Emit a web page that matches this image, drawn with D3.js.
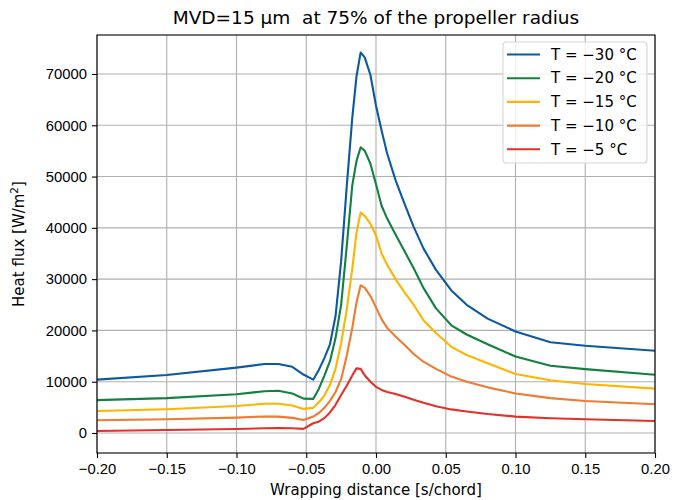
<!DOCTYPE html>
<html>
<head>
<meta charset="utf-8">
<script src="https://cdn.jsdelivr.net/npm/d3@7"></script>
<style>
	body { margin: 0; background: #fff; }
	svg { font-family: "DejaVu Sans", sans-serif; }
	.grid line { stroke: #b0b0b0; stroke-width: 1.1; }
	.axis path, .axis line { stroke: #000; stroke-width: 1.1; }
	.axis text { font-size: 14.8px; fill: #000; }
</style>
</head>
<body>
<div id="chart"></div>
<script>

// wrapping distance samples (s/chord)
var wrapDist = [-0.2, -0.15, -0.1, -0.08, -0.07, -0.06, -0.052, -0.045, -0.041, -0.037,
	-0.033, -0.029, -0.025, -0.021, -0.017, -0.014, -0.011, -0.008, -0.004, 0.0,
	0.004, 0.008, 0.014, 0.02, 0.027, 0.034, 0.043, 0.054, 0.065, 0.08,
	0.1, 0.125, 0.15, 0.2];

// heat flux [W/m2] per temperature
var fluxM30 = [10400, 11300, 12750, 13450, 13450, 12900, 11400, 10400, 12300, 14600,
	17300, 22800, 33500, 48000, 61500, 69500, 74200, 73200, 69800, 63800,
	59000, 54500, 49300, 45000, 40200, 36000, 31800, 27800, 25000, 22300,
	19800, 17700, 17000, 16050];
var fluxM20 = [6400, 6800, 7550, 8150, 8250, 7700, 6700, 6650, 8600, 11200,
	14000, 18500, 25000, 36300, 48300, 53000, 55700, 55000, 52500, 48500,
	44300, 41800, 38700, 35700, 32100, 28300, 24300, 21000, 19200, 17300,
	14900, 13100, 12450, 11350];
var fluxM15 = [4300, 4630, 5250, 5700, 5700, 5350, 4700, 4900, 6000, 7300,
	9400, 12500, 17500, 24000, 32000, 39000, 43000, 42300, 40800, 38500,
	35000, 32800, 30000, 27600, 25000, 22000, 19500, 16800, 15200, 13600,
	11500, 10300, 9550, 8650];
var fluxM10 = [2480, 2670, 3000, 3230, 3200, 2950, 2550, 3200, 3900, 4900,
	6260, 8000, 10500, 15000, 20500, 25400, 28800, 28300, 26700, 24500,
	22200, 20500, 18800, 17300, 15400, 13900, 12500, 11000, 10000, 8900,
	7700, 6800, 6250, 5600];
var fluxM5 = [400, 580, 780, 930, 980, 930, 800, 1900, 2200, 2900,
	4000, 5500, 7400, 9200, 11200, 12600, 12500, 11200, 10000, 9000,
	8400, 8000, 7600, 7100, 6500, 5900, 5200, 4600, 4200, 3700,
	3200, 2870, 2670, 2350];

var seriesNames = ["T = \u221230 \u00b0C", "T = \u221220 \u00b0C", "T = \u221215 \u00b0C",
	"T = \u221210 \u00b0C", "T = \u22125 \u00b0C"];
var seriesColors = ["#0b59a2", "#12803f", "#ffb400", "#ef7a30", "#e4302a"];

var xTicks = [-0.2, -0.15, -0.1, -0.05, 0, 0.05, 0.1, 0.15, 0.2];
var yTicks = [0, 10000, 20000, 30000, 40000, 50000, 60000, 70000];

var allSeries = [fluxM30, fluxM20, fluxM15, fluxM10, fluxM5].map(function(vals, i) {
	return {
		name: seriesNames[i],
		color: seriesColors[i],
		values: vals.map(function(v, j) { return { x: wrapDist[j], y: v }; })
	};
});

var margin = { top: 35, right: 19, bottom: 47, left: 97 };
var width = 674 - margin.left - margin.right,
	height = 500 - margin.top - margin.bottom;

var svg = d3.select("#chart").append("svg")
	.attr("width", 674)
	.attr("height", 500);

var g = svg.append("g")
	.attr("transform", "translate(" + margin.left + "," + margin.top + ")");

var xScale = d3.scaleLinear().domain([-0.2, 0.2]).range([0, width]);
var yScale = d3.scaleLinear().domain([-3900, 77600]).range([height, 0]);

// grid
g.append("g").attr("class", "grid")
	.selectAll("line").data(xTicks).enter().append("line")
	.attr("x1", d => xScale(d)).attr("x2", d => xScale(d))
	.attr("y1", 0).attr("y2", height);
g.append("g").attr("class", "grid")
	.selectAll("line").data(yTicks).enter().append("line")
	.attr("x1", 0).attr("x2", width)
	.attr("y1", d => yScale(d)).attr("y2", d => yScale(d));

// lines
var line = d3.line()
	.x(d => xScale(d.x))
	.y(d => yScale(d.y));

g.selectAll(".series").data(allSeries).enter().append("path")
	.attr("class", "series")
	.attr("fill", "none")
	.attr("stroke", d => d.color)
	.attr("stroke-width", 2.1)
	.attr("stroke-linejoin", "round")
	.attr("d", d => line(d.values));

// axes
var xAxis = d3.axisBottom(xScale).tickValues(xTicks).tickSize(5).tickPadding(5)
	.tickFormat(d => d3.format(".2f")(d).replace("-", "\u2212"));
var yAxis = d3.axisLeft(yScale).tickValues(yTicks).tickSize(5).tickPadding(5)
	.tickFormat(d3.format("d"));

g.append("g").attr("class", "x-axis axis")
	.attr("transform", "translate(0," + height + ")")
	.call(xAxis)
	.call(s => s.select(".domain").remove());
g.append("g").attr("class", "y-axis axis")
	.call(yAxis)
	.call(s => s.select(".domain").remove());

// frame
g.append("rect")
	.attr("width", width).attr("height", height)
	.attr("fill", "none").attr("stroke", "#000").attr("stroke-width", 1.1);

// labels
svg.append("text")
	.attr("x", margin.left + width / 2).attr("y", 24)
	.attr("text-anchor", "middle")
	.style("font-size", "18.5px")
	.style("white-space", "pre")
	.text("MVD=15 \u00b5m  at 75% of the propeller radius");

svg.append("text")
	.attr("x", margin.left + width / 2).attr("y", 495)
	.attr("text-anchor", "middle")
	.style("font-size", "15px")
	.text("Wrapping distance [s/chord]");

var yLabel = svg.append("text")
	.attr("transform", "translate(24," + (margin.top + height / 2) + ") rotate(-90)")
	.attr("text-anchor", "middle")
	.style("font-size", "15px");
yLabel.append("tspan").text("Heat flux [W/m");
yLabel.append("tspan").attr("dy", -6).style("font-size", "10.5px").text("2");
yLabel.append("tspan").attr("dy", 6).text("]");

// legend
var legend = svg.append("g").attr("transform", "translate(503,42)");
legend.append("rect")
	.attr("width", 144).attr("height", 121)
	.attr("rx", 3)
	.attr("fill", "#fff").attr("fill-opacity", 0.8)
	.attr("stroke", "#d5d5d5").attr("stroke-width", 1.1);

var rows = legend.selectAll(".legend-row").data(allSeries).enter().append("g")
	.attr("class", "legend-row")
	.attr("transform", (d, i) => "translate(0," + (12.5 + i * 23.7) + ")");
rows.append("line")
	.attr("x1", 4).attr("x2", 37)
	.attr("stroke", d => d.color).attr("stroke-width", 2.1);
rows.append("text")
	.attr("x", 48).attr("dy", "0.35em")
	.style("font-size", "15px")
	.text(d => d.name);

</script>
</body>
</html>
